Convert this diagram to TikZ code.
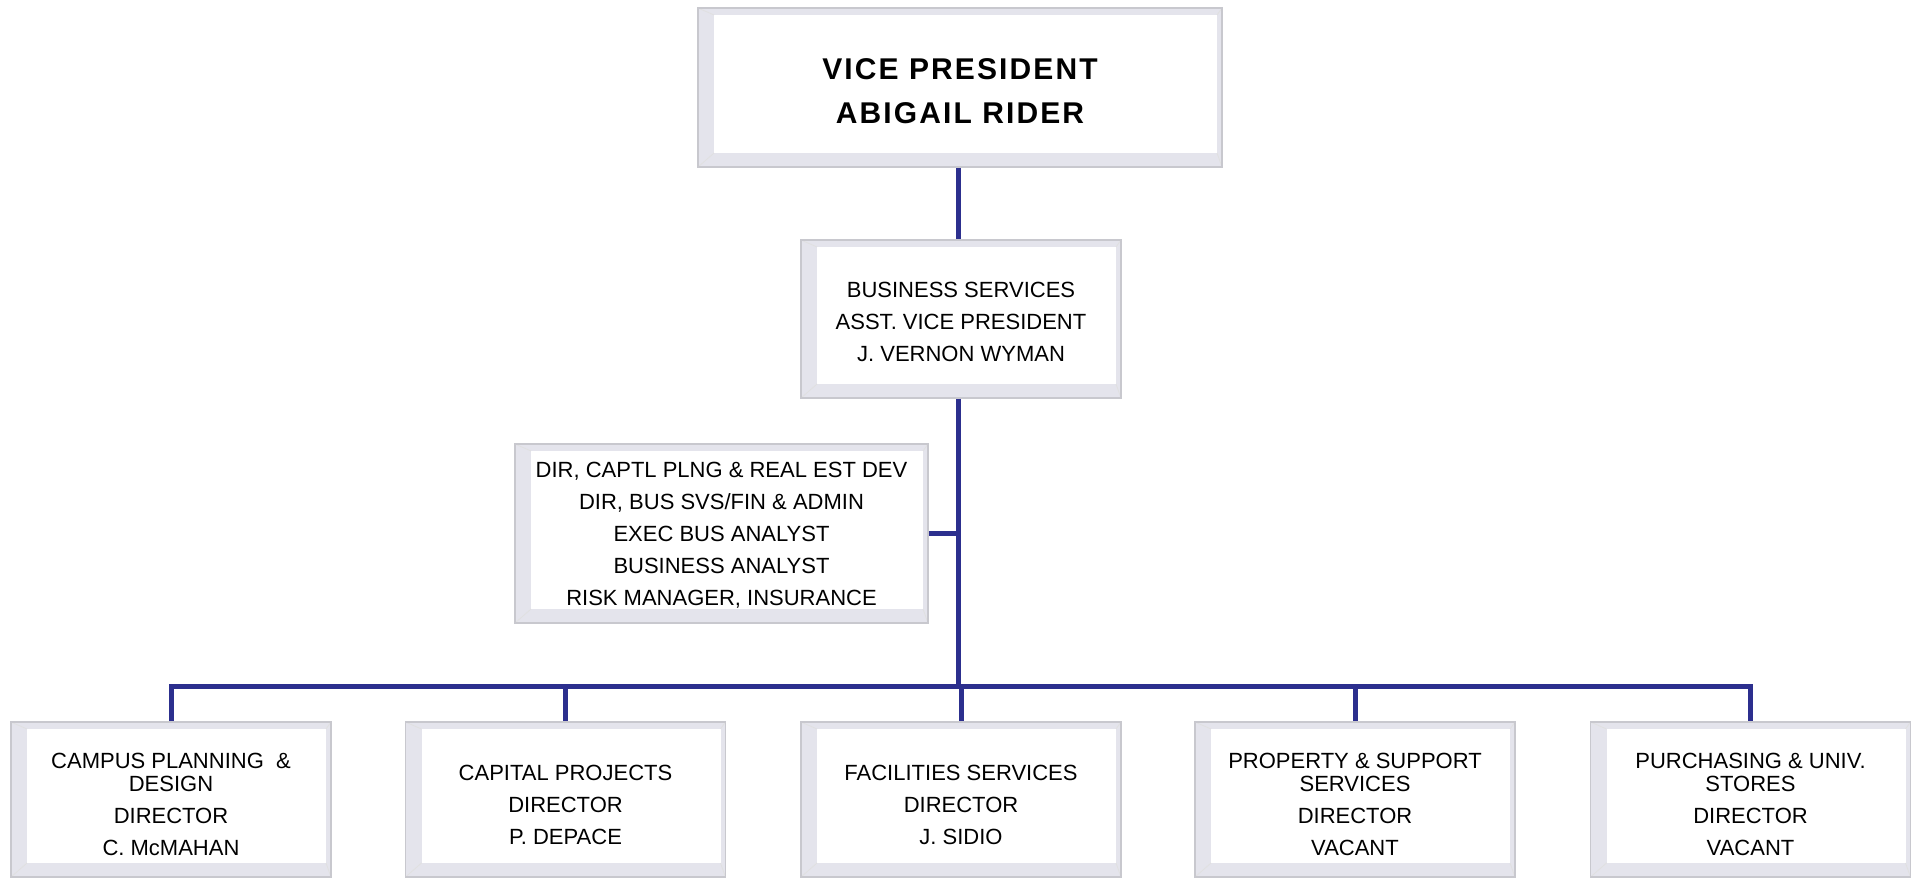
\documentclass[tikz,border=0pt]{standalone}
\usepackage{fontspec}
\setmainfont{Liberation Sans}
\newfontfamily\headfont[LetterSpace=7]{Liberation Sans}
\definecolor{linkblue}{RGB}{44,47,142}
\definecolor{bevelgray}{RGB}{228,228,236}
\definecolor{rimgray}{RGB}{200,200,206}
\newcommand{\topgap}[1]{\rule{0pt}{#1}}
\tikzset{
  unitbox/.style={draw=rimgray, line width=0.8pt, fill=bevelgray,
    minimum width=160pt, minimum height=77.5pt, inner sep=0pt,
    align=center, font=\fontsize{11}{16}\selectfont,
    path picture={
      \fill[white] ([xshift=8pt,yshift=-3.5pt]path picture bounding box.north west)
        rectangle ([xshift=-2.5pt,yshift=7pt]path picture bounding box.south east);
      \draw[black!12, line width=0.4pt]
        (path picture bounding box.north west) -- ++(8pt,-3.5pt)
        (path picture bounding box.south west) -- ++(8pt,7pt)
        (path picture bounding box.north east) -- ++(-2.5pt,-3.5pt)
        (path picture bounding box.south east) -- ++(-2.5pt,7pt);
    }},
  link/.style={linkblue, line width=2.5pt, line join=miter}
}

\begin{document}
\begin{tikzpicture}[x=0.5pt,y=-0.5pt]
\useasboundingbox (0,0) rectangle (1914,877);

% top of the chart
\node[unitbox, minimum width=262pt, minimum height=79.5pt,
  font=\headfont\bfseries\fontsize{15}{22}\selectfont] (vp) at (960,87.5)
  {\topgap{14.5pt}VICE PRESIDENT\\ABIGAIL RIDER};
\node[unitbox, minimum height=79pt] (bs) at (961,319)
  {\topgap{10.5pt}BUSINESS SERVICES\\ASST. VICE PRESIDENT\\J. VERNON WYMAN};
\node[unitbox, minimum width=206.5pt, minimum height=89.5pt] (staff) at (721.5,533.5)
  {\topgap{9.2pt}DIR, CAPTL PLNG \& REAL EST DEV\\DIR, BUS SVS/FIN \& ADMIN\\EXEC BUS ANALYST\\BUSINESS ANALYST\\RISK MANAGER, INSURANCE};

% directors
\node[unitbox] (campus) at (171,799.5)
  {\topgap{13pt}CAMPUS PLANNING\ \ \&\\[-4.5pt]DESIGN\\DIRECTOR\\C. McMAHAN};
\node[unitbox] (capital) at (565.5,799.5)
  {\topgap{13pt}CAPITAL PROJECTS\\DIRECTOR\\P. DEPACE};
\node[unitbox] (facil) at (961,799.5)
  {\topgap{13pt}FACILITIES SERVICES\\DIRECTOR\\J. SIDIO};
\node[unitbox] (prop) at (1355,799.5)
  {\topgap{13pt}PROPERTY \& SUPPORT\\[-4.5pt]SERVICES\\DIRECTOR\\VACANT};
\node[unitbox] (purch) at (1750.5,799.5)
  {\topgap{13pt}PURCHASING \& UNIV.\\[-4.5pt]STORES\\DIRECTOR\\VACANT};

\coordinate (hub) at (958,686);

% connectors
\draw[link] (vp.south -| hub) -- (bs.north -| hub);
\draw[link] (bs.south -| hub) -- (hub);
\draw[link] (staff.east) -- (staff.east -| hub);
\draw[link] (campus.north) -- (campus.north |- hub) -- (purch.north |- hub) -- (purch.north);
\foreach \n in {capital,facil,prop}
  \draw[link] (\n.north |- hub) -- (\n.north);
\end{tikzpicture}
\end{document}
